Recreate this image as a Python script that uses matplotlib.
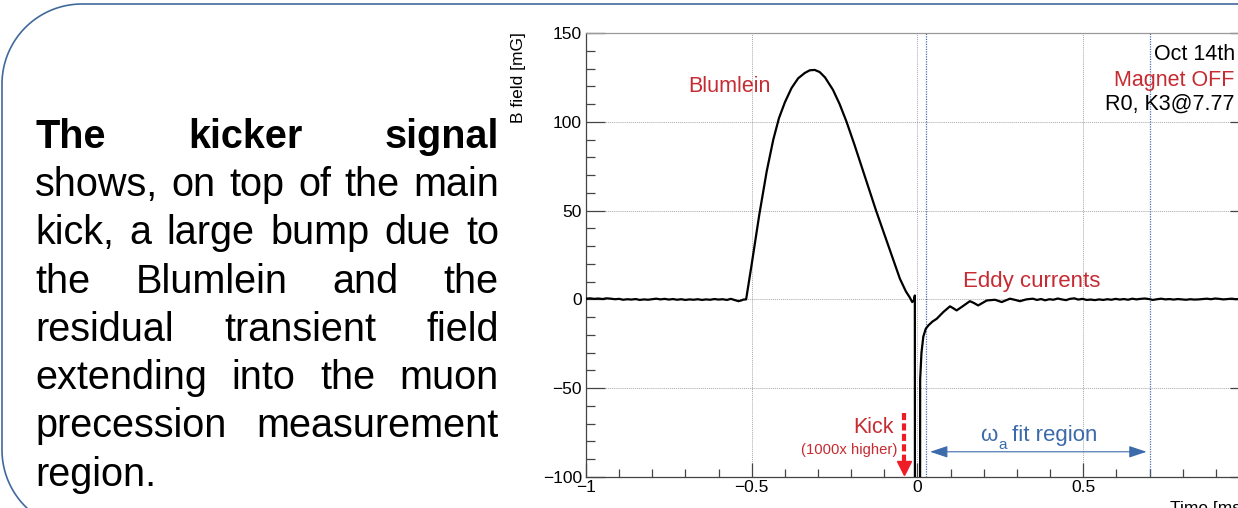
import matplotlib
matplotlib.use("Agg")
import numpy as np
import matplotlib.pyplot as plt
from matplotlib.patches import ArrowStyle
from matplotlib.ticker import MultipleLocator

plt.rcParams['font.family'] = ['Liberation Sans', 'DejaVu Sans']

# ---------------- data ----------------
time_ms = [
    -1.000, -0.988, -0.975, -0.963, -0.950, -0.938, -0.925, -0.913, -0.900, -0.888,
    -0.875, -0.863, -0.850, -0.838, -0.825, -0.813, -0.800, -0.788, -0.775, -0.763,
    -0.750, -0.738, -0.725, -0.713, -0.700, -0.688, -0.675, -0.663, -0.650, -0.638,
    -0.625, -0.613, -0.600, -0.588, -0.575, -0.563, -0.550, -0.540, -0.532, -0.525,
    -0.517,
    -0.500, -0.477, -0.455, -0.435, -0.418, -0.400, -0.380, -0.360,
    -0.340, -0.325, -0.310, -0.295, -0.279, -0.255, -0.235, -0.214, -0.190, -0.160,
    -0.125, -0.083, -0.053, -0.035, -0.023, -0.016, -0.011, -0.008, -0.006, 0.005,
    0.008, 0.012, 0.0175, 0.025, 0.033, 0.045, 0.058, 0.078, 0.098, 0.108,
    0.118, 0.133, 0.158, 0.170, 0.183, 0.209, 0.234, 0.254, 0.279, 0.295,
    0.309, 0.328, 0.348,
    0.360, 0.373, 0.385, 0.398, 0.410, 0.423, 0.435, 0.448, 0.460, 0.473,
    0.485, 0.498, 0.510, 0.523, 0.535, 0.548, 0.560, 0.573, 0.585, 0.598,
    0.610, 0.623, 0.635, 0.648, 0.660, 0.673, 0.685, 0.698, 0.710, 0.723,
    0.735, 0.748, 0.760, 0.773, 0.785, 0.798, 0.810, 0.823, 0.835, 0.848,
    0.860, 0.873, 0.885, 0.898, 0.910, 0.923, 0.935, 0.948, 0.960, 0.973,
    0.985, 1.000,
]
field_mG = [
    0.4, 0.6, 0.3, 0.5, 0.2, 0.6, 0.4, 0.1, 0.3, -0.2,
    0.1, -0.1, 0.2, -0.3, 0.0, -0.2, 0.1, 0.4, 0.0, 0.3,
    -0.1, 0.2, -0.2, 0.1, -0.3, 0.0, -0.2, 0.1, -0.3, 0.0,
    -0.2, 0.2, -0.1, 0.1, -0.3, 0.3, -0.4, -1.0, -0.6, -0.1,
    0.0,
    20.0, 48.0, 72.0, 90.0, 102.0, 111.0, 119.0, 124.5,
    127.5, 129.0, 129.2, 128.0, 125.0, 118.0, 110.0, 100.0, 87.0, 70.0,
    50.0, 27.6, 11.6, 4.5, 1.0, -1.5, -0.5, 2.2, -1000.0, -1000.0,
    -45.0, -30.0, -21.0, -16.5, -14.6, -12.5, -10.9, -7.1, -3.9, -5.0,
    -6.2, -4.3, -1.0, -2.0, -3.4, -0.6, -0.2, -1.5, 0.4, -0.3,
    -1.0, 0.0, 0.4,
    -0.3, 0.2, -0.5, 0.1, -0.2, 0.5, 0.0, -0.4, 0.3, 0.6,
    -0.1, 0.3, -0.3, -0.1, -0.4, 0.0, -0.3, 0.1, -0.2, 0.3,
    -0.1, 0.2, -0.2, 0.4, 0.0, 0.3, 0.5, 0.2, -0.3, 0.1,
    0.4, 0.0, 0.2, -0.1, 0.2, 0.0, -0.2, 0.1, -0.1, 0.0,
    0.2, 0.4, 0.1, 0.5, 0.3, 0.0, 0.2, 0.4, 0.1, 0.3,
    0.0, 0.2,
]
fit_region = [0.025, 0.7]
x_ticks = [-1, -0.5, 0, 0.5, 1]
x_tick_labels = ['\u22121', '\u22120.5', '0', '0.5', '1']
y_ticks = [-100, -50, 0, 50, 100, 150]
y_tick_labels = ['\u2212100', '\u221250', '0', '50', '100', '150']

paragraph = [
    (["The", "kicker", "signal"], True, True),
    (["shows,", "on", "top", "of", "the", "main"], False, True),
    (["kick,", "a", "large", "bump", "due", "to"], False, True),
    (["the", "Blumlein", "and", "the"], False, True),
    (["residual", "transient", "field"], False, True),
    (["extending", "into", "the", "muon"], False, True),
    (["precession", "measurement"], False, True),
    (["region."], False, False),
]

RED = '#c62b32'
BRIGHT_RED = '#ee1c24'
BLUE = '#3b6baa'

W, H = 1238, 508
fig = plt.figure(figsize=(W / 100, H / 100), dpi=100)
fig.patch.set_facecolor('white')

# ---------------- background (slide) axes in pixel coordinates ----------------
bg = fig.add_axes([0, 0, 1, 1], zorder=0)
bg.set_xlim(0, W)
bg.set_ylim(H, 0)
bg.axis('off')

# rounded slide frame (top-left and bottom-left corners)
r = 80
x0, y0, y1, xr = 2, 4, 530, 1500
a1 = np.linspace(-np.pi / 2, -np.pi, 40)
a2 = np.linspace(np.pi, np.pi / 2, 40)
fx = np.concatenate([[xr], x0 + r + r * np.cos(a1), x0 + r + r * np.cos(a2), [xr]])
fy = np.concatenate([[y0], y0 + r + r * np.sin(a1), y1 - r + r * np.sin(a2), [y1]])
bg.plot(fx, fy, color='#41699c', lw=1.2, solid_capstyle='butt')

# justified paragraph
left_px, right_px = 35, 499
baselines = [148, 196, 244, 293, 341, 389, 437, 486]
fig.canvas.draw()
renderer = fig.canvas.get_renderer()
for (words, bold, justify), yb in zip(paragraph, baselines):
    texts = [bg.text(0, yb, w, fontsize=28.5, fontweight='bold' if bold else 'normal',
                     ha='left', va='baseline', color='black') for w in words]
    widths = [t.get_window_extent(renderer).width for t in texts]
    if justify and len(words) > 1:
        gap = (right_px - left_px - sum(widths)) / (len(words) - 1)
    else:
        gap = 11
    x = left_px
    for t, wdt in zip(texts, widths):
        t.set_x(x)
        x += wdt + gap

# ---------------- main chart ----------------
ax_left, ax_right, ax_top, ax_bot = 586, 1249, 33, 477
ax = fig.add_axes([ax_left / W, (H - ax_bot) / H, (ax_right - ax_left) / W, (ax_bot - ax_top) / H],
                  zorder=1)
ax.set_facecolor('none')
ax.plot(time_ms, field_mG, color='black', lw=1.6, zorder=3)
ax.set_xlim(-1, 1)
ax.set_ylim(-100, 150)

ax.set_xticks(x_ticks)
ax.set_xticklabels(x_tick_labels)
ax.set_yticks(y_ticks)
ax.set_yticklabels(y_tick_labels)
ax.xaxis.set_minor_locator(MultipleLocator(0.1))
ax.yaxis.set_minor_locator(MultipleLocator(10))
ax.tick_params(axis='both', which='both', direction='in', color='#444444', width=0.9,
               labelsize=12.5, top=False, right=True)
ax.tick_params(axis='y', which='major', length=14, pad=3)
ax.tick_params(axis='y', which='minor', length=6.5)
ax.tick_params(axis='x', which='major', length=10, pad=2.5)
ax.tick_params(axis='x', which='minor', length=5.5)

for side in ['left', 'bottom']:
    ax.spines[side].set_color('#444444')
    ax.spines[side].set_linewidth(0.9)
ax.spines['top'].set_color('#999999')
ax.spines['top'].set_linewidth(0.9)
ax.spines['right'].set_color('#444444')

ax.grid(which='major', linestyle=(0, (1, 1)), color='#a8a8a8', lw=0.7, zorder=1)
ax.set_axisbelow(True)

for xv in fit_region:
    ax.axvline(xv, color='#4a70a8', lw=0.9, linestyle=(0, (1, 1)), zorder=2)

# axis titles
ax.text((518 - ax_left) / (ax_right - ax_left), (ax_bot - 32) / (ax_bot - ax_top), 'B field [mG]',
        rotation=90, ha='center', va='top', fontsize=12.5, transform=ax.transAxes)
bg.text(1170, 512.5, 'Time [ms]', ha='left', va='baseline', fontsize=12.5, color='black')

# annotations
ax.text(-0.691, 117, 'Blumlein', color=RED, fontsize=15.5, ha='left', va='baseline')
ax.text(0.957, 134.8, 'Oct 14th', color='black', fontsize=15.5, ha='right', va='baseline')
ax.text(0.957, 120.2, 'Magnet OFF', color=RED, fontsize=15.5, ha='right', va='baseline')
ax.text(0.957, 106.6, 'R0, K3@7.77', color='black', fontsize=15.5, ha='right', va='baseline')
ax.text(0.138, 6.8, 'Eddy currents', color=RED, fontsize=16, ha='left', va='baseline')
ax.text(-0.073, -75.4, 'Kick', color=RED, fontsize=15.5, ha='right', va='baseline')
ax.text(-0.061, -87, '(1000x higher)', color=RED, fontsize=10.7, ha='right', va='baseline')

# red dashed kick arrow
ax.plot([-0.041, -0.041], [-63.8, -91.5], color=BRIGHT_RED, lw=3,
        linestyle=(0, (1.7, 0.8)), solid_capstyle='butt', dash_capstyle='butt', zorder=4)
ax.plot([-0.041], [-94.8], marker='v', ms=9.5, color=BRIGHT_RED, mec=BRIGHT_RED, zorder=4)

# blue fit region arrow
ax.annotate('', xy=(0.691, -85.8), xytext=(0.038, -85.8),
            arrowprops=dict(arrowstyle=ArrowStyle('<|-|>', head_length=1.08, head_width=0.36),
                            mutation_scale=10, color=BLUE, lw=0.8, shrinkA=0, shrinkB=0))
ax.text(0.189, -80, '\u03c9', color=BLUE, fontsize=16, ha='left', va='baseline')
ax.text(0.245, -84.2, 'a', color=BLUE, fontsize=11, ha='left', va='baseline')
ax.text(0.284, -80, 'fit region', color=BLUE, fontsize=16, ha='left', va='baseline')

fig.savefig('out.png', dpi=100)
